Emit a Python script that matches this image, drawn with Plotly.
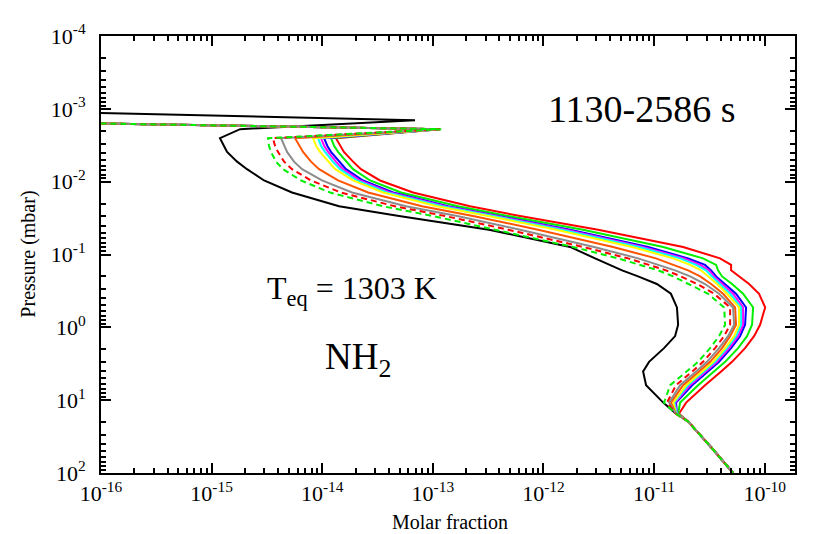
import numpy as np
import plotly.graph_objects as go

# pressure levels (mbar) where the profiles were read
pressure = [2.53e-3, 3.21e-3, 3.90e-3, 5.31e-3, 6.74e-3, 9.63e-3, 1.41e-2, 2.18e-2,
            2.96e-2, 4.56e-2, 7.88e-2, 0.113, 0.139, 0.165, 0.200, 0.254, 0.346,
            0.533, 0.922, 1.32, 1.93, 2.98, 4.04, 6.23, 10.8, 15.4]

# deep atmosphere, same for all profiles
tail_p = [19.6, 45.7, 100.0]
tail_x = [2.03e-11, 3.34e-11, 5.18e-11]

# upper spike
black_top_p = [1.05e-3, 1.43e-3, 1.90e-3]
black_top_x = [1e-17, 6.90e-14, 1.81e-15]
col_top_p = [1.50e-3, 1.90e-3]

x_black = [1.19e-15, 1.29e-15, 1.38e-15, 1.70e-15, 2.09e-15, 2.98e-15, 5.33e-15, 1.42e-14,
           4.95e-14, 3.22e-13, 1.74e-12, 2.93e-12, 3.92e-12, 5.14e-12, 7.17e-12, 1.06e-11,
           1.42e-11, 1.61e-11, 1.65e-11, 1.55e-11, 1.23e-11, 9.01e-12, 7.96e-12, 8.47e-12,
           1.21e-11, 1.58e-11]
x_red = [1.33e-14, 1.45e-14, 1.57e-14, 1.90e-14, 2.24e-14, 3.33e-14, 6.62e-14, 2.17e-13,
         6.15e-13, 3.12e-12, 1.83e-11, 3.95e-11, 4.97e-11, 4.97e-11, 5.87e-11, 7.23e-11,
         8.90e-11, 1.01e-10, 9.09e-11, 8.02e-11, 6.65e-11, 5.07e-11, 4.04e-11, 2.89e-11,
         1.95e-11, 1.68e-11]
x_green = [1.20e-14, 1.28e-14, 1.39e-14, 1.64e-14, 1.90e-14, 2.71e-14, 5.16e-14, 1.69e-13,
           4.79e-13, 2.28e-12, 1.21e-11, 2.77e-11, 3.64e-11, 3.79e-11, 4.12e-11, 5.07e-11,
           6.38e-11, 7.86e-11, 7.69e-11, 6.93e-11, 5.75e-11, 4.39e-11, 3.49e-11, 2.50e-11,
           1.72e-11, 1.65e-11]
x_blue = [1.04e-14, 1.11e-14, 1.20e-14, 1.42e-14, 1.64e-14, 2.34e-14, 4.37e-14, 1.37e-13,
          3.97e-13, 1.74e-12, 8.83e-12, 2.03e-11, 2.89e-11, 3.28e-11, 3.64e-11, 4.39e-11,
          5.51e-11, 6.79e-11, 6.65e-11, 5.99e-11, 4.97e-11, 3.87e-11, 3.08e-11, 2.21e-11,
          1.58e-11, 1.61e-11]
x_magenta = [9.75e-15, 1.04e-14, 1.13e-14, 1.33e-14, 1.54e-14, 2.20e-14, 4.10e-14, 1.29e-13,
             3.73e-13, 1.60e-12, 7.96e-12, 1.87e-11, 2.61e-11, 3.14e-11, 3.49e-11, 4.12e-11,
             5.18e-11, 6.38e-11, 6.38e-11, 5.75e-11, 4.77e-11, 3.71e-11, 2.95e-11, 2.12e-11,
             1.55e-11, 1.61e-11]
x_cyan = [9.16e-15, 9.75e-15, 1.06e-14, 1.25e-14, 1.45e-14, 2.06e-14, 3.85e-14, 1.21e-13,
          3.50e-13, 1.47e-12, 7.32e-12, 1.72e-11, 2.40e-11, 2.95e-11, 3.34e-11, 3.95e-11,
          4.87e-11, 6.12e-11, 6.12e-11, 5.51e-11, 4.57e-11, 3.56e-11, 2.83e-11, 2.03e-11,
          1.52e-11, 1.61e-11]
x_yellow = [8.26e-15, 8.79e-15, 9.55e-15, 1.13e-14, 1.31e-14, 1.90e-14, 3.55e-14, 1.09e-13,
            3.16e-13, 1.30e-12, 6.33e-12, 1.49e-11, 2.12e-11, 2.66e-11, 3.08e-11, 3.71e-11,
            4.57e-11, 5.87e-11, 5.87e-11, 5.29e-11, 4.39e-11, 3.42e-11, 2.72e-11, 1.95e-11,
            1.49e-11, 1.58e-11]
x_orange = [5.68e-15, 6.17e-15, 6.71e-15, 7.92e-15, 9.36e-15, 1.39e-14, 2.60e-14, 7.99e-14,
            2.31e-13, 8.94e-13, 4.26e-12, 1.04e-11, 1.52e-11, 2.03e-11, 2.61e-11, 3.28e-11,
            4.21e-11, 5.40e-11, 5.51e-11, 4.87e-11, 4.12e-11, 3.21e-11, 2.55e-11, 1.83e-11,
            1.42e-11, 1.58e-11]
x_gray = [4.24e-15, 4.52e-15, 4.81e-15, 5.56e-15, 6.57e-15, 9.96e-15, 1.86e-14, 5.72e-14,
          1.66e-13, 6.15e-13, 2.87e-12, 7.17e-12, 1.09e-11, 1.55e-11, 2.12e-11, 2.89e-11,
          3.87e-11, 5.18e-11, 5.29e-11, 4.67e-11, 3.87e-11, 3.01e-11, 2.40e-11, 1.72e-11,
          1.37e-11, 1.58e-11]
x_red_dash = [3.59e-15, 3.74e-15, 3.98e-15, 4.52e-15, 5.33e-15, 7.92e-15, 1.48e-14, 4.55e-14,
              1.29e-13, 4.79e-13, 2.28e-12, 5.82e-12, 9.01e-12, 1.28e-11, 1.75e-11, 2.45e-11,
              3.49e-11, 4.87e-11, 4.87e-11, 4.30e-11, 3.56e-11, 2.77e-11, 2.21e-11, 1.58e-11,
              1.31e-11, 1.58e-11]
x_green_dash = [3.24e-15, 3.30e-15, 3.44e-15, 3.82e-15, 4.42e-15, 6.43e-15, 1.18e-14, 3.55e-14,
                1.00e-13, 3.65e-13, 1.85e-12, 4.73e-12, 7.47e-12, 1.09e-11, 1.49e-11, 2.07e-11,
                3.08e-11, 4.30e-11, 4.39e-11, 3.87e-11, 3.21e-11, 2.50e-11, 1.95e-11, 1.40e-11,
                1.23e-11, 1.58e-11]

# spike tips of the coloured profiles
tips = {"red": 1.15e-13, "green": 1.15e-13, "blue": 1.15e-13, "magenta": 1.15e-13,
        "cyan": 1.15e-13, "yellow": 1.15e-13, "orange": 1.15e-13, "gray": 1.15e-13,
        "red_dash": 1.17e-13, "green_dash": 1.19e-13}

serif = "Liberation Serif"

fig = go.Figure()

fig.add_trace(go.Scatter(x=black_top_x + x_black + tail_x,
                         y=black_top_p + pressure + tail_p,
                         mode="lines", line=dict(color="black", width=2)))

curves = [("red", x_red, "#ff0000", "solid"),
          ("green", x_green, "#00ee00", "solid"),
          ("blue", x_blue, "#0000ff", "solid"),
          ("magenta", x_magenta, "#ff00ff", "solid"),
          ("cyan", x_cyan, "#00ffff", "solid"),
          ("yellow", x_yellow, "#ffff00", "solid"),
          ("orange", x_orange, "#ff5500", "solid"),
          ("gray", x_gray, "#8c8c8c", "solid"),
          ("red_dash", x_red_dash, "#ff0000", "6px,4px"),
          ("green_dash", x_green_dash, "#00ee00", "6px,4px")]

for name, xs, col, dash in curves:
    fig.add_trace(go.Scatter(x=[1e-17, tips[name]] + xs + tail_x,
                             y=col_top_p + pressure + tail_p,
                             mode="lines", name=name,
                             line=dict(color=col, width=2, dash=dash)))

# ticks
xmaj = [10.0 ** e for e in range(-16, -9)]
xtxt = ["10<sup>%d</sup>" % e for e in range(-16, -9)]
xmin = [m * 10.0 ** e for e in range(-16, -9) for m in range(2, 10)]
ymaj = [10.0 ** e for e in range(-4, 3)]
ytxt = ["10<sup>%d</sup>" % e for e in range(-4, 3)]
ymin = [m * 10.0 ** e for e in range(-4, 2) for m in range(2, 10)]

axis_common = dict(type="log", showgrid=False, zeroline=False, showline=True,
                   linecolor="black", linewidth=2, mirror="ticks", ticks="inside",
                   ticklen=10, tickwidth=1.5, tickcolor="black",
                   tickfont=dict(family=serif, size=22, color="black"))

fig.update_xaxes(range=[-16, np.log10(1.88e-10)], tickvals=xmaj, ticktext=xtxt,
                 minor=dict(ticks="inside", ticklen=5, tickwidth=1.5, tickcolor="black",
                            tickvals=xmin, showgrid=False),
                 **axis_common)
fig.update_yaxes(range=[2, -4], tickvals=ymaj, ticktext=ytxt, ticklabelstandoff=9,
                 minor=dict(ticks="inside", ticklen=5, tickwidth=1.5, tickcolor="black",
                            tickvals=ymin, showgrid=False),
                 **axis_common)

fig.update_layout(
    width=830, height=534,
    margin=dict(l=93, r=43, t=24, b=69),
    paper_bgcolor="white", plot_bgcolor="white",
    showlegend=False,
    font=dict(family=serif, color="black"),
    annotations=[
        dict(text="Molar fraction", xref="paper", yref="paper", x=0.503, y=-0.111,
             showarrow=False, font=dict(size=20), xanchor="center", yanchor="middle"),
        dict(text="Pressure (mbar)", xref="paper", yref="paper", x=-0.105, y=0.5,
             textangle=-90, showarrow=False, font=dict(size=20),
             xanchor="center", yanchor="middle"),
        dict(text="1130-2586 s", xref="paper", yref="paper", x=0.780, y=0.834,
             showarrow=False, font=dict(size=38), xanchor="center", yanchor="middle"),
        dict(text="T<sub>eq</sub> = 1303 K", xref="paper", yref="paper", x=0.362, y=0.417,
             showarrow=False, font=dict(size=32), xanchor="center", yanchor="middle"),
        dict(text="NH<sub>2</sub>", xref="paper", yref="paper", x=0.370, y=0.259,
             showarrow=False, font=dict(size=37), xanchor="center", yanchor="middle"),
    ],
)

fig.write_html("out.html")
